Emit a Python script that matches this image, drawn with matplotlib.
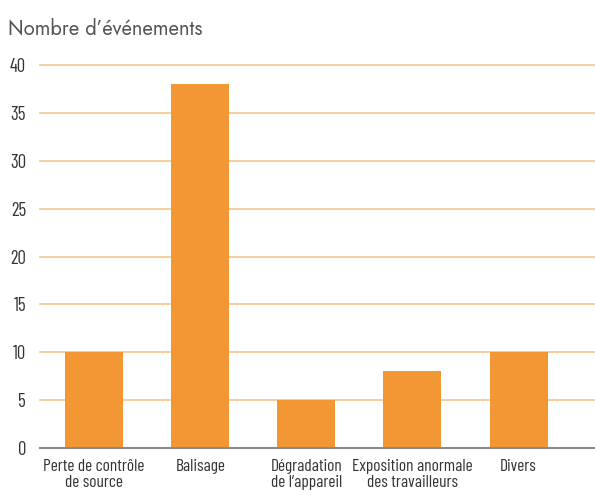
import matplotlib
matplotlib.use("Agg")
import matplotlib.pyplot as plt
from matplotlib import font_manager

categories = ["Perte de contrôle\nde source", "Balisage", "Dégradation\nde l’appareil",
              "Exposition anormale\ndes travailleurs", "Divers"]
values = [10, 38, 5, 8, 10]
yticks = [0, 5, 10, 15, 20, 25, 30, 35, 40]
title = "Nombre d’événements"

names = {f.name for f in font_manager.fontManager.ttflist}
def pick(cands, default="DejaVu Sans"):
    for c in cands:
        if c in names:
            return c
    return default
narrow = pick(["Barlow Condensed", "Asap Condensed", "Archivo Narrow"])
titlefont = pick(["Jost", "Futura", "Century Gothic", "Lato"])

fig = plt.figure(figsize=(5.95, 4.95), dpi=100)
ax = fig.add_axes([0.0672, 0.0949, 0.9328, 0.7737])

x = list(range(len(categories)))
ax.bar(x, values, width=0.547, color="#F29733", zorder=3)
ax.set_xlim(-0.51, 4.72)
ax.set_ylim(0, 40)
ax.set_yticks(yticks)
ax.set_yticklabels([str(v) for v in yticks], family=narrow, fontsize=13.5, color="#333333")
ax.set_xticks(x)
ax.set_xticklabels(categories, family=narrow, fontsize=12.5, color="#333333", linespacing=1.1)
ax.tick_params(axis="both", length=0)
ax.tick_params(axis="y", pad=10)
ax.tick_params(axis="x", pad=8)
for v in yticks[1:]:
    ax.axhline(v, color="#F6C490", lw=1.2, zorder=1, clip_on=False)
for s in ["top", "right", "left"]:
    ax.spines[s].set_visible(False)
ax.spines["bottom"].set_color("#8a8a8a")
ax.spines["bottom"].set_linewidth(1.5)
ax.spines["bottom"].set_zorder(4)

fig.text(8/595, 1 - 28/495, title, fontsize=14.5, color="#555555", va="center", ha="left",
         family=titlefont)

fig.savefig("out.png", dpi=100)
